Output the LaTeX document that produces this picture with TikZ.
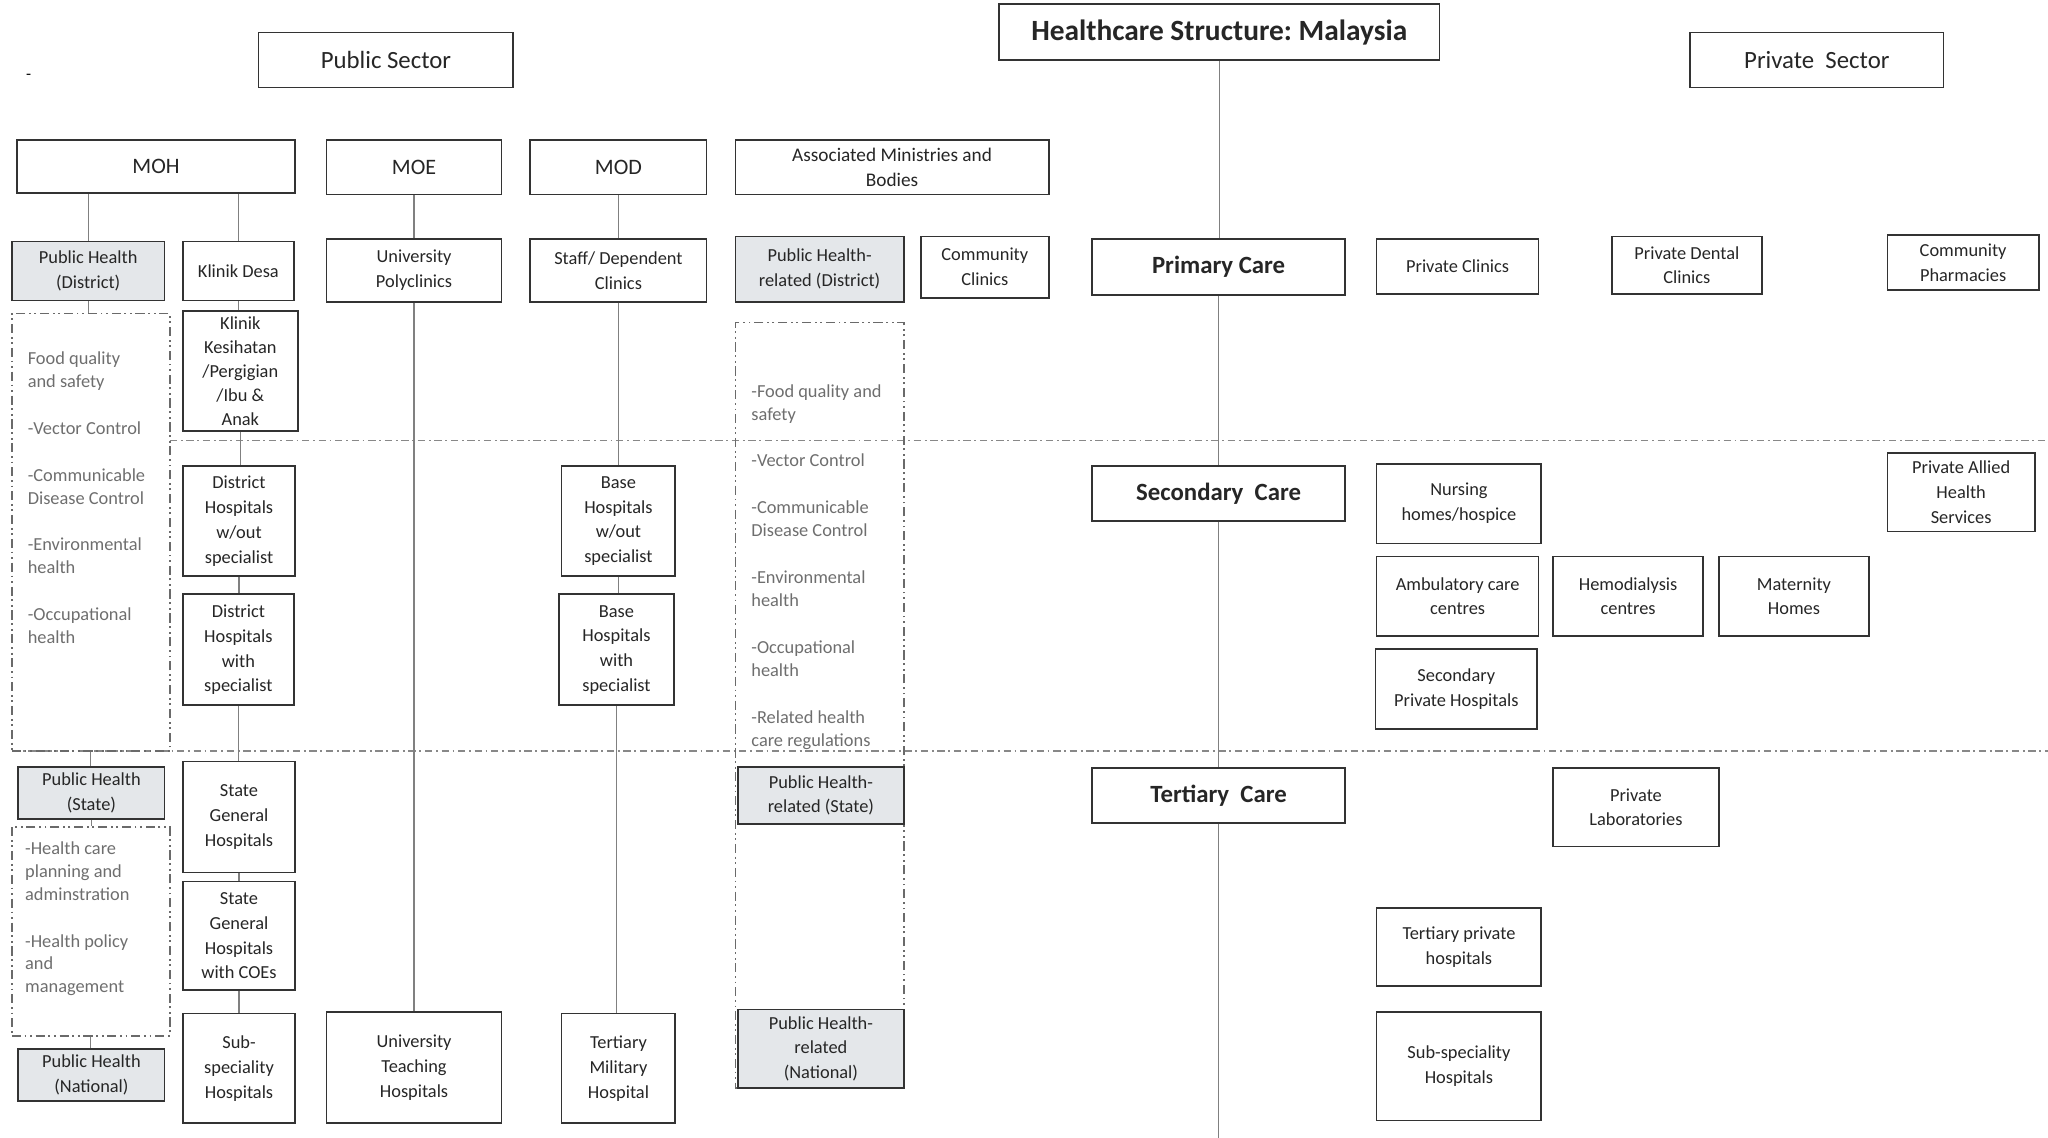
\documentclass[tikz,border=0pt]{standalone}
\usepackage{fontspec}
\setmainfont{Carlito}
\frenchspacing
\definecolor{boxline}{HTML}{333333}
\definecolor{linkgray}{HTML}{808080}
\definecolor{framegray}{HTML}{6A6A6A}
\definecolor{notegray}{HTML}{6E6E6E}
\definecolor{phfill}{HTML}{E4E7EA}
\tikzset{
  box/.style={draw=boxline, fill=white, line width=0.9pt, align=center, inner sep=1pt,
    text=black!85, font=\fontsize{10}{13.5}\selectfont},
  shade/.style={box, fill=phfill},
  head/.style={box, font=\fontsize{13.5}{16}\selectfont},
  level/.style={box, font=\fontsize{13.5}{16}\selectfont\bfseries},
  wh/.style 2 args={minimum width=#1*0.025cm, minimum height=#2*0.025cm},
  link/.style={draw=linkgray, line width=0.6pt},
  frame/.style={draw=framegray, line width=0.9pt, inner sep=0pt,
    dash pattern=on 5pt off 2pt on 1pt off 2pt on 1pt off 2pt},
  note/.style={text=notegray, align=left, inner sep=0pt, anchor=north west,
    font=\fontsize{10}{12.5}\selectfont},
  band/.style={draw=framegray!80, line width=0.6pt, dash pattern=on 4pt off 2pt on 1pt off 2pt},
}
\begin{document}
\begin{tikzpicture}[x=0.025cm,y=-0.025cm]
\useasboundingbox (0,0) rectangle (1568,871);

% level bands
\draw[band] (130,337) -- (1568,337);
\draw[band] (9,575) -- (1568,575);

% headers
\node[level, font=\fontsize{16}{19}\selectfont\bfseries, wh={337}{43}] (title) at (933.5,24.5) {Healthcare Structure: Malaysia};
\node[head, wh={195}{42}] (pubsec) at (295.5,46) {Public Sector};
\node[head, wh={194}{42}] (privsec) at (1391,46) {Private\ \ Sector};
\node[font=\small, inner sep=0pt] (dot) at (22,59) {-};

\node[head, font=\fontsize{12}{15}\selectfont, wh={213}{41}] (moh) at (119.5,127.5) {MOH};
\node[head, font=\fontsize{12}{15}\selectfont, wh={134}{42}] (moe) at (317,128) {MOE};
\node[head, font=\fontsize{12}{15}\selectfont, wh={135}{42}] (mod) at (473.5,128) {MOD};
\node[box, font=\fontsize{10.5}{13.5}\selectfont, wh={240}{42}] (assoc) at (683,128) {Associated Ministries and\\Bodies};

% public health frames
\node[frame, wh={121}{335}] (f1) at (69.5,407.5) {};
\node[frame, wh={121}{160}] (f2) at (69.5,713) {};
\node[frame, wh={129}{586}] (f3) at (627.5,540) {};

\node[note] (n1) at (21,269) {Food quality\\and safety\\[13pt]-Vector Control\\[13pt]-Communicable\\Disease Control\\[13pt]-Environmental\\health\\[13pt]-Occupational\\health};
\node[note] (n2) at (19,644) {-Health care\\planning and\\adminstration\\[13pt]-Health policy\\and\\management};
\node[note] (n3) at (575,294) {-Food quality and\\safety\\[13pt]-Vector Control\\[13pt]-Communicable\\Disease Control\\[13pt]-Environmental\\health\\[13pt]-Occupational\\health\\[13pt]-Related health\\care regulations};

% MOH
\node[shade, wh={117}{45}] (phd) at (67.5,207.5) {Public Health\\(District)};
\node[shade, wh={112}{40}] (phs) at (70,607) {Public Health\\(State)};
\node[shade, wh={112}{40}] (phn) at (70,823) {Public Health\\(National)};
\node[box, wh={85}{45}] (kdesa) at (182.5,207.5) {Klinik Desa};
\node[box, font=\fontsize{10}{13}\selectfont, wh={88}{92}] (kk) at (184,284) {Klinik\\Kesihatan\\/Pergigian\\/Ibu \&\\Anak};
\node[box, wh={86}{84}] (dhwo) at (183,399) {District\\Hospitals\\w/out\\specialist};
\node[box, wh={85}{85}] (dhw) at (182.5,497.5) {District\\Hospitals\\with\\specialist};
\node[box, wh={86}{85}] (sgh) at (183,625.5) {State\\General\\Hospitals};
\node[box, wh={86}{83}] (sghc) at (183,716.5) {State\\General\\Hospitals\\with COEs};
\node[box, wh={86}{84}] (subsp) at (183,818) {Sub-\\speciality\\Hospitals};

% MOE
\node[box, wh={134}{48}] (upoly) at (317,207) {University\\Polyclinics};
\node[box, wh={134}{85}] (uth) at (317,817.5) {University\\Teaching\\Hospitals};

% MOD
\node[box, wh={135}{48}] (staff) at (473.5,207) {Staff/ Dependent\\Clinics};
\node[box, wh={87}{84}] (bhwo) at (473.5,399) {Base\\Hospitals\\w/out\\specialist};
\node[box, wh={88}{85}] (bhw) at (472,497.5) {Base\\Hospitals\\with\\specialist};
\node[box, wh={87}{84}] (tmh) at (473.5,818) {Tertiary\\Military\\Hospital};

% associated ministries and bodies
\node[shade, wh={129}{50}] (phrd) at (627.5,206) {Public Health-\\related (District)};
\node[shade, wh={127}{44}] (phrs) at (628.5,609) {Public Health-\\related (State)};
\node[shade, wh={127}{60}] (phrn) at (628.5,803) {Public Health-\\related\\(National)};
\node[box, wh={98}{47}] (cclin) at (754,204.5) {Community\\Clinics};

% levels of care
\node[level, wh={194}{43}] (primary) at (933,204.5) {Primary Care};
\node[level, wh={194}{42}] (secondary) at (933,378) {Secondary\ \ Care};
\node[level, wh={194}{42}] (tertiary) at (933,609) {Tertiary\ \ Care};
\coordinate (bottom) at (933,871);

% private sector
\node[box, wh={124}{42}] (pclin) at (1116,204) {Private Clinics};
\node[box, wh={115}{44}] (pdent) at (1291.5,203) {Private Dental\\Clinics};
\node[box, wh={116}{42}] (cpharm) at (1503,201) {Community\\Pharmacies};
\node[box, wh={126}{61}] (nursing) at (1117,385.5) {Nursing\\homes/hospice};
\node[box, wh={113}{60}] (allied) at (1501.5,377) {Private Allied\\Health\\Services};
\node[box, wh={124}{61}] (ambul) at (1116,456.5) {Ambulatory care\\centres};
\node[box, wh={115}{61}] (hemo) at (1246.5,456.5) {Hemodialysis\\centres};
\node[box, wh={115}{61}] (mat) at (1373.5,456.5) {Maternity\\Homes};
\node[box, wh={124}{61}] (secpriv) at (1115,527.5) {Secondary\\Private Hospitals};
\node[box, wh={127}{60}] (plab) at (1252.5,618) {Private\\Laboratories};
\node[box, wh={126}{60}] (tpriv) at (1117,725) {Tertiary private\\hospitals};
\node[box, wh={126}{83}] (psub) at (1117,816.5) {Sub-speciality\\Hospitals};

% connectors
\draw[link] (phd.north) -- (phd.north |- moh.south);
\draw[link] (kdesa.north) -- (kdesa.north |- moh.south);
\draw[link] (upoly.north) -- (upoly.north |- moe.south);
\draw[link] (staff.north) -- (staff.north |- mod.south);
\foreach \a/\b in {phd/f1, f1/phs, phs/f2, f2/phn, kdesa/kk, kk/dhwo, dhwo/dhw, dhw/sgh,
  sgh/sghc, sghc/subsp, upoly/uth, staff/bhwo, bhwo/bhw, bhw/tmh,
  title/primary, primary/secondary, secondary/tertiary} {
  \draw[link] (\a.south) -- (\a.south |- \b.north);
}
\draw[link] (tertiary.south) -- (bottom);
\end{tikzpicture}
\end{document}
